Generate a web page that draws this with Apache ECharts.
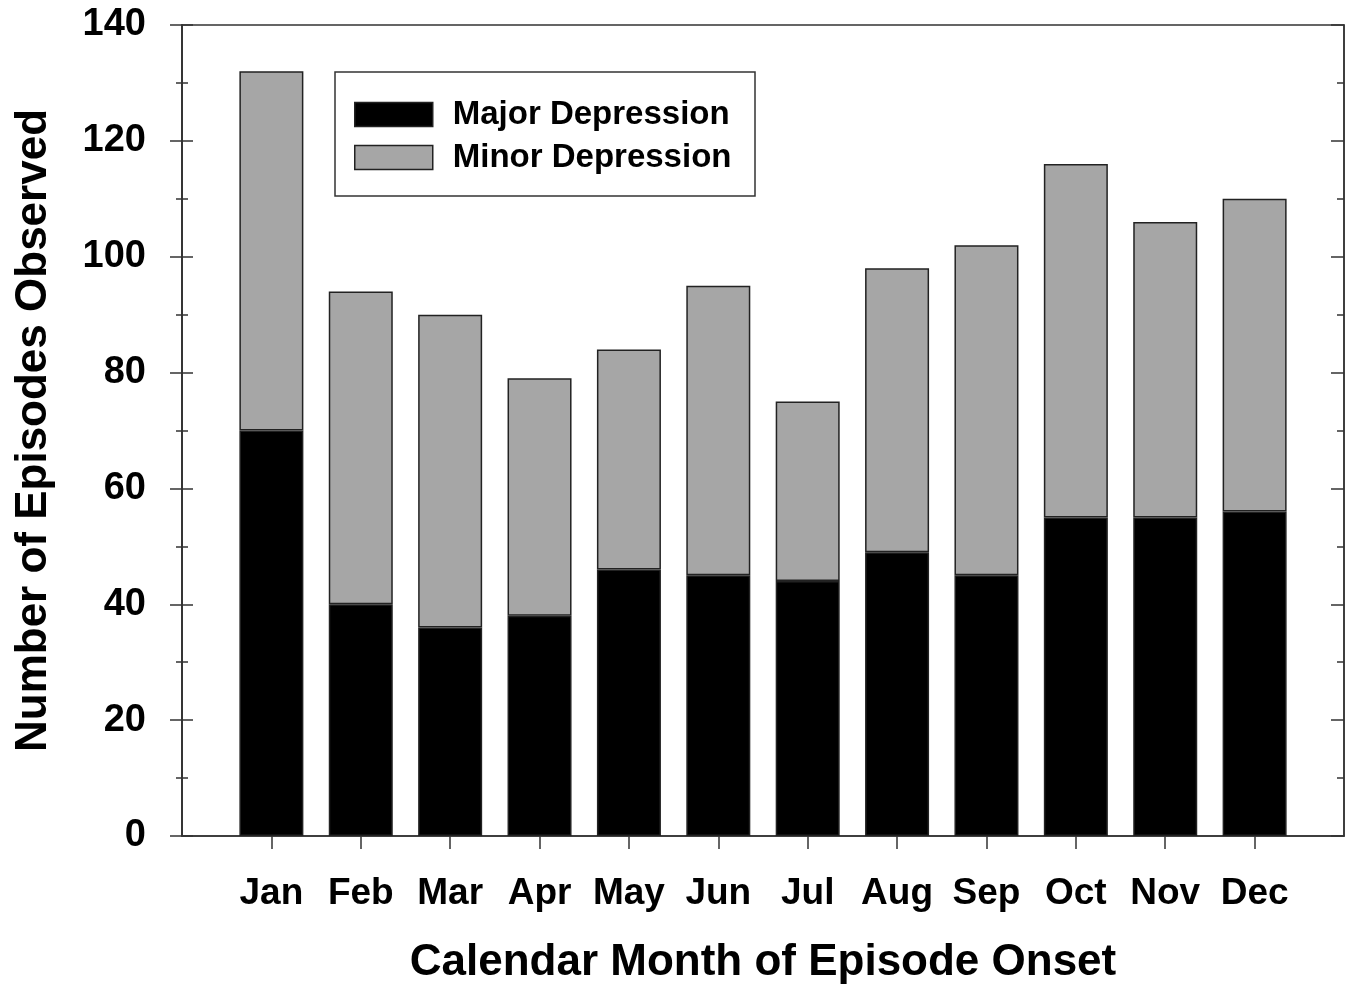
<!DOCTYPE html>
<html>
<head>
<meta charset="utf-8">
<script src="https://cdn.jsdelivr.net/npm/echarts@6/dist/echarts.min.js"></script>
<style>
html,body{margin:0;padding:0;background:#fff;}
#chart{width:1352px;height:990px;}
</style>
</head>
<body>
<div id="chart"></div>
<script>
var months = ['Jan','Feb','Mar','Apr','May','Jun','Jul','Aug','Sep','Oct','Nov','Dec'];
var majorDepression = [70, 40, 36, 38, 46, 45, 44, 49, 45, 55, 55, 56];
var minorDepression = [62, 54, 54, 41, 38, 50, 31, 49, 57, 61, 51, 54];
var yTicks = [0, 20, 40, 60, 80, 100, 120, 140];

var FONT = "'Liberation Sans', Arial, Helvetica, sans-serif";
var AXIS = '#333';

// pad one empty slot at each end so the months sit one full step in from the frame
var cats = [''].concat(months, ['']);
var majorData = [null].concat(majorDepression, [null]);
var minorData = [null].concat(minorDepression, [null]);

var chart = echarts.init(document.getElementById('chart'), null, {renderer: 'canvas'});

var yBase = {
  type: 'value', min: yTicks[0], max: yTicks[yTicks.length - 1], interval: 20,
  splitLine: {show: false},
  axisLine: {show: true, lineStyle: {color: AXIS, width: 1.5}},
  minorTick: {show: true, splitNumber: 2, length: 6, lineStyle: {color: AXIS, width: 1.5}},
  minorSplitLine: {show: false}
};

var option = {
  backgroundColor: '#fff',
  animation: false,
  grid: {left: 182, right: 8, top: 25, bottom: 152, show: true, borderColor: AXIS, borderWidth: 1.5, backgroundColor: 'transparent'},
  xAxis: {
    type: 'category', data: cats, boundaryGap: false,
    axisLine: {show: true, lineStyle: {color: AXIS, width: 1.5}},
    axisTick: {show: true, length: 13, inside: false, lineStyle: {color: AXIS, width: 1.5},
      interval: function (i, v) { return v !== ''; }},
    axisLabel: {show: true, interval: 0, margin: 39, fontFamily: FONT, fontWeight: 'bold', fontSize: 37, color: '#000'},
    splitLine: {show: false},
    name: 'Calendar Month of Episode Onset', nameLocation: 'middle', nameGap: 105,
    nameTextStyle: {fontFamily: FONT, fontWeight: 'bold', fontSize: 44, color: '#000'}
  },
  yAxis: [
    Object.assign({}, yBase, {
      position: 'left',
      axisTick: {show: true, length: 12, inside: false, lineStyle: {color: AXIS, width: 1.5}},
      axisLabel: {show: true, margin: 36, fontFamily: FONT, fontWeight: 'bold', fontSize: 38, color: '#000'},
      name: 'Number of Episodes Observed', nameLocation: 'middle', nameGap: 126,
      nameTextStyle: {fontFamily: FONT, fontWeight: 'bold', fontSize: 44, color: '#000'}
    }),
    Object.assign({}, yBase, {
      position: 'left',
      axisTick: {show: true, length: 11, inside: true, lineStyle: {color: AXIS, width: 1.5}},
      minorTick: {show: true, splitNumber: 2, length: 6, lineStyle: {color: AXIS, width: 1.5}},
      axisLabel: {show: false}
    }),
    Object.assign({}, yBase, {
      position: 'right',
      axisTick: {show: true, length: 13, inside: true, lineStyle: {color: AXIS, width: 1.5}},
      minorTick: {show: true, splitNumber: 2, length: 7, lineStyle: {color: AXIS, width: 1.5}},
      axisLabel: {show: false}
    })
  ],
  legend: {
    orient: 'vertical', left: 354, top: 98, padding: 0,
    itemWidth: 78, itemHeight: 24, itemGap: 10,
    icon: 'rect',
    data: [
      {name: 'Major Depression', itemStyle: {color: '#000', borderColor: '#222', borderWidth: 1.5}},
      {name: 'Minor Depression', itemStyle: {color: '#a6a6a6', borderColor: '#222', borderWidth: 1.5}}
    ],
    textStyle: {fontFamily: FONT, fontWeight: 'bold', fontSize: 33, color: '#000', padding: [0, 0, 0, 15]},
    selectedMode: false,
    z: 10
  },
  graphic: [{
    type: 'rect', z: 5,
    shape: {x: 335, y: 72, width: 420, height: 124},
    style: {fill: '#fff', stroke: AXIS, lineWidth: 1.5}
  }],
  series: [
    {
      name: 'Major Depression', type: 'bar', stack: 'total', data: majorData, barWidth: 64,
      itemStyle: {color: '#000', borderColor: '#222', borderWidth: 1.5}
    },
    {
      name: 'Minor Depression', type: 'bar', stack: 'total', data: minorData, barWidth: 64,
      itemStyle: {color: '#a6a6a6', borderColor: '#222', borderWidth: 1.5}
    }
  ]
};

chart.setOption(option);
</script>
</body>
</html>
